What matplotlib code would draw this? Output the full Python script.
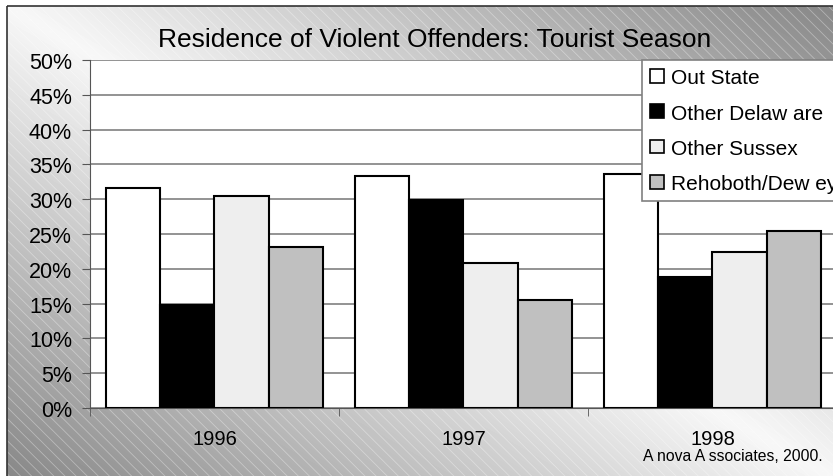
import numpy as np
import matplotlib
matplotlib.use("Agg")
import matplotlib.pyplot as plt
from matplotlib.patches import Patch, Rectangle

plt.rcParams['font.family'] = ['Liberation Sans', 'DejaVu Sans']
plt.rcParams['hatch.linewidth'] = 0.6

# dados
anos = ['1996', '1997', '1998']
series = ['Out State', 'Other Delaw are', 'Other Sussex', 'Rehoboth/Dew ey']
out_state = [31.6, 33.3, 33.6]
other_delaware = [14.8, 29.9, 18.8]
other_sussex = [30.4, 20.9, 22.4]
rehoboth = [23.2, 15.5, 25.4]
cores = ['#FFFFFF', '#000000', '#EEEEEE', '#C0C0C0']

W, H = 833, 477
fig = plt.figure(figsize=(W / 100, H / 100), dpi=100)

# fundo com gradiente diagonal e hachura
bg = fig.add_axes([0, 0, 1, 1])
bg.set_xlim(0, W)
bg.set_ylim(H, 0)
bg.axis('off')
xx, yy = np.meshgrid(np.linspace(0, 1, 200), np.linspace(0, 1, 120))
u = xx - yy
grad = 0.97 - 0.44 * np.abs(u)
bg.imshow(grad, cmap='gray', vmin=0, vmax=1, extent=(7, W + 5, H + 5, 7),
          aspect='auto', interpolation='bilinear')
bg.add_patch(Rectangle((7, 7), W, H, facecolor='none',
                       edgecolor=(1, 1, 1, 0.35), hatch='\\\\\\', lw=0))
bg.add_patch(Rectangle((7, 7), W, H, facecolor='none', edgecolor='#333333', lw=1.2))

# area do grafico
ax = fig.add_axes([90 / W, 1 - 409 / H, 747 / W, 348 / H])
ax.set_facecolor('white')
x = np.arange(len(anos))
largura = 0.218
valores = [out_state, other_delaware, other_sussex, rehoboth]
for i, (vals, cor) in enumerate(zip(valores, cores)):
    ax.bar(x + (i - 1.5) * largura, vals, largura, color=cor,
           edgecolor='black', linewidth=1.5, zorder=3)

ax.set_xlim(-0.5, 2.5)
ax.set_ylim(0, 50)
ax.set_yticks(np.arange(0, 51, 5))
ax.set_yticklabels([f'{v}%' for v in range(0, 51, 5)], fontsize=15.5)
ax.yaxis.grid(True, color='#808080', linewidth=1.2, zorder=0)
ax.set_axisbelow(True)
ax.set_xticks(x)
ax.set_xticklabels(anos, fontsize=14.5)
ax.set_xticks([-0.5, 0.5, 1.5, 2.5], minor=True)
ax.tick_params(axis='x', which='major', length=0, pad=15)
ax.tick_params(axis='x', which='minor', length=6, color='#555555', direction='out')
ax.tick_params(axis='y', length=6, color='#555555', direction='out', pad=7)
for lado in ['top', 'right']:
    ax.spines[lado].set_visible(False)
ax.spines['left'].set_color('#555555')
ax.spines['bottom'].set_color('#555555')

# titulo
fig.text(435 / W, 1 - 40 / H, 'Residence of Violent Offenders: Tourist Season',
         ha='center', va='center', fontsize=19)

# legenda (cortada na borda direita, como no original)
handles = [Patch(facecolor=c, edgecolor='black', linewidth=1.2) for c in cores]
leg = fig.legend(handles, series, loc='upper left',
                 bbox_to_anchor=(642 / W, 1 - 61 / H), fontsize=15,
                 frameon=True, fancybox=False, borderaxespad=0,
                 handlelength=0.65, handleheight=0.65, handletextpad=0.35,
                 labelspacing=0.78, borderpad=0.4)
leg.get_frame().set_edgecolor('#808080')
leg.get_frame().set_linewidth(1.2)
leg.get_frame().set_alpha(1)

fig.text(823 / W, 1 - 457 / H, 'A nova A ssociates, 2000.', ha='right',
         va='center', fontsize=11.3)

fig.savefig('out.png', dpi=100)
